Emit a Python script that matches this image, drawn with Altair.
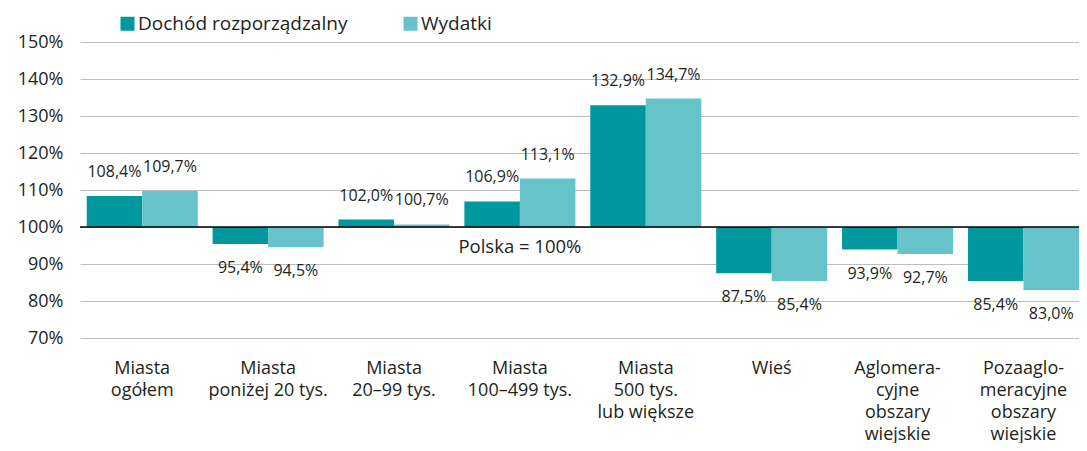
import altair as alt
import pandas as pd

categories = [
    "Miasta|ogółem",
    "Miasta|poniżej 20 tys.",
    "Miasta|20–99 tys.",
    "Miasta|100–499 tys.",
    "Miasta|500 tys.|lub większe",
    "Wieś",
    "Aglomera-|cyjne|obszary|wiejskie",
    "Pozaaglo-|meracyjne|obszary|wiejskie",
]
series = ["Dochód rozporządzalny", "Wydatki"]
dochod = [108.4, 95.4, 102.0, 106.9, 132.9, 87.5, 93.9, 85.4]
wydatki = [109.7, 94.5, 100.7, 113.1, 134.7, 85.4, 92.7, 83.0]
y_ticks = [70, 80, 90, 100, 110, 120, 130, 140, 150]
note = "Polska = 100%"

rows = []
for c, d, w in zip(categories, dochod, wydatki):
    for s, v in ((series[0], d), (series[1], w)):
        rows.append({"cat": c, "series": s, "value": v,
                     "label": f"{v:.1f}".replace(".", ",") + "%"})
df = pd.DataFrame(rows)
one = pd.DataFrame({"value": [100], "cat": [categories[3]], "note": [note]})

FONT = "Open Sans"
TXT = "#231F20"

x_scale = alt.Scale(paddingInner=0.118, paddingOuter=0.0266, align=1)
x_axis = alt.Axis(title=None, labelAngle=0, domain=False, ticks=False,
                  labelExpr="split(datum.label, '|')", labelBaseline="top",
                  labelPadding=21, labelLineHeight=22, labelFontSize=18,
                  labelLimit=300, labelColor=TXT, labelFont=FONT)
y_scale = alt.Scale(domain=[70, 150], nice=False, zero=False)
y_axis = alt.Axis(title=None, values=y_ticks, labelExpr="datum.value + '%'",
                  domain=False, ticks=False, labelPadding=17, labelFontSize=18,
                  labelOverlap=False, labelColor=TXT, labelFont=FONT,
                  gridColor="#BDBDBD", gridWidth=1)

X = alt.X("cat:N", sort=categories, scale=x_scale, axis=x_axis)
Y = alt.Y("value:Q", scale=y_scale, axis=y_axis)
xoff = alt.XOffset("series:N", sort=series)

base = alt.Chart(df)

bars = base.mark_bar().encode(
    x=X,
    xOffset=xoff,
    y=Y,
    y2=alt.datum(100),
    color=alt.Color("series:N", sort=series,
                    scale=alt.Scale(domain=series, range=["#00979F", "#67C3CA"]),
                    legend=alt.Legend(title=None, orient="none", direction="horizontal",
                                      legendX=38, legendY=-28, symbolType="square",
                                      symbolSize=196, symbolStrokeWidth=0,
                                      labelFontSize=19, labelFont=FONT, labelColor=TXT,
                                      labelLimit=400, columnPadding=53, labelOffset=1)),
)

pos_labels = base.transform_filter("datum.value >= 100").mark_text(
    dy=-24, baseline="middle", fontSize=16, font=FONT, color=TXT
).encode(x=X, xOffset=xoff, y=Y, text="label:N")

neg_labels = base.transform_filter("datum.value < 100").mark_text(
    dy=24, baseline="middle", fontSize=16, font=FONT, color=TXT
).encode(x=X, xOffset=xoff, y=Y, text="label:N")

base_line = alt.Chart(one).mark_rule(color="#000000", strokeWidth=1.5).encode(y=Y)

polska = alt.Chart(one).mark_text(
    dy=20, baseline="middle", fontSize=18.5, font=FONT, color=TXT
).encode(x=X, y=Y, text="note:N")

chart = alt.layer(bars, base_line, pos_labels, neg_labels, polska).properties(
    width=999, height=296,
    autosize=alt.AutoSizeParams(type="none"),
    padding={"left": 72, "top": 34, "right": 0, "bottom": 105},
).configure_view(stroke=None)

chart.save("out.html", embed_options={"renderer": "svg", "actions": False})
